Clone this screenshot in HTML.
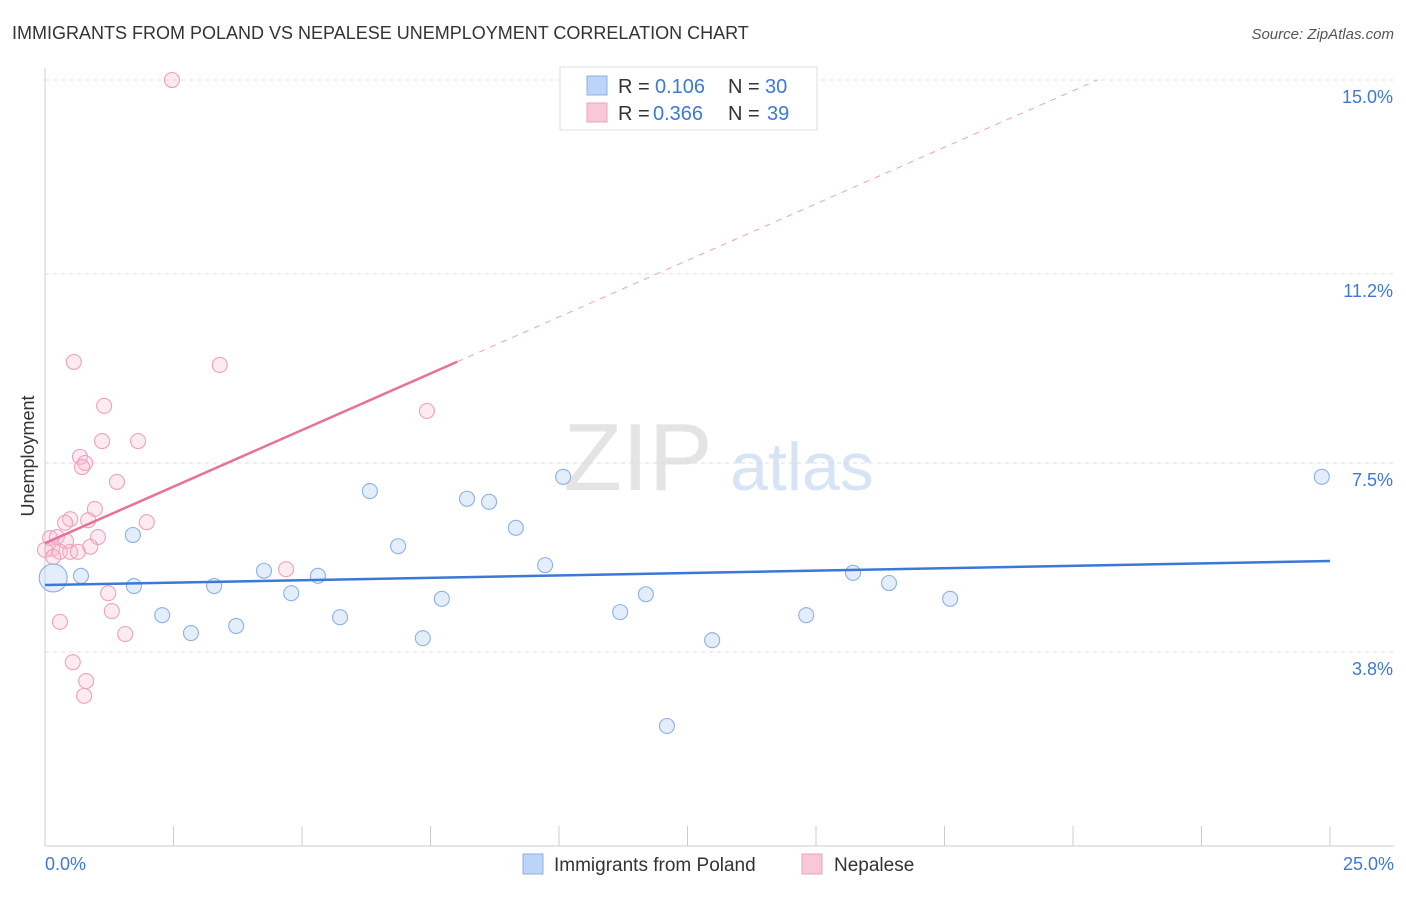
<!DOCTYPE html>
<html><head><meta charset="utf-8"><style>
body{margin:0;background:#fff;font-family:"Liberation Sans",sans-serif}
svg text{font-family:"Liberation Sans",sans-serif}
</style></head><body>
<svg id="c" width="1406" height="892">
<text x="12" y="39" font-size="18" fill="#333">IMMIGRANTS FROM POLAND VS NEPALESE UNEMPLOYMENT CORRELATION CHART</text>
<text x="1394" y="39" font-size="15" fill="#555" text-anchor="end" font-style="italic">Source: ZipAtlas.com</text>
<text x="638" y="490" font-size="96" fill="#e4e4e4" font-family="Liberation Serif" text-anchor="middle">ZIP</text>
<text x="802" y="490" font-size="68" fill="#d6e4f5" text-anchor="middle">atlas</text>
<text transform="translate(34,456) rotate(-90)" font-size="18" fill="#333" text-anchor="middle">Unemployment</text>
<g id="grid"></g><g id="marks"></g>
<g>
<rect x="560" y="67" width="257" height="63" fill="#fff" stroke="#ddd"/>
<rect x="587" y="76" width="20" height="19" fill="#bcd4f6" stroke="#8ab0e8"/>
<rect x="587" y="103" width="20" height="19" fill="#f9c8d6" stroke="#f0a0b8"/>
<text x="618" y="93" font-size="20" fill="#333">R =</text>
<text x="655" y="93" font-size="20" fill="#3c78d8">0.106</text>
<text x="728" y="93" font-size="20" fill="#333">N =</text>
<text x="765" y="93" font-size="20" fill="#3c78d8">30</text>
<text x="618" y="120" font-size="20" fill="#333">R =</text>
<text x="653" y="120" font-size="20" fill="#3c78d8">0.366</text>
<text x="728" y="120" font-size="20" fill="#333">N =</text>
<text x="767" y="120" font-size="20" fill="#3c78d8">39</text>
</g>
<g>
<rect x="523" y="854" width="20" height="20" fill="#bcd4f6" stroke="#8ab0e8"/>
<text x="554" y="871" font-size="19" fill="#333">Immigrants from Poland</text>
<rect x="802" y="854" width="20" height="20" fill="#f9c8d6" stroke="#f0a0b8"/>
<text x="834" y="871" font-size="19" fill="#333">Nepalese</text>
</g>
</svg>
<script>
const yTicks=[3.8,7.5,11.2,15.0];
const yTickLabels=["3.8%","7.5%","11.2%","15.0%"];
const xTickCount=10;
const blueX=[0.16,0.70,1.71,1.73,2.28,2.84,3.29,3.72,4.26,4.79,5.31,5.74,6.32,6.87,7.35,7.72,8.21,8.64,9.16,9.73,10.08,11.19,11.69,12.10,12.98,14.81,15.72,16.42,17.61,24.84];
const blueY=[5.25,5.29,6.09,5.09,4.52,4.17,5.09,4.31,5.39,4.95,5.29,4.48,6.95,5.87,4.07,4.84,6.80,6.74,6.23,5.50,7.23,4.58,4.93,2.35,4.03,4.52,5.35,5.15,4.84,7.23];
const pinkX=[2.47,0.56,3.40,1.15,7.43,1.11,1.81,0.68,0.78,0.72,1.40,0.97,0.49,0.84,0.39,1.98,0.10,0.23,0.41,1.03,0.88,0.14,0.29,0.49,0.64,0.0,0.16,4.69,1.23,1.30,0.29,1.56,0.54,0.80,0.76];
const pinkY=[15.0,9.48,9.42,8.62,8.52,7.93,7.93,7.62,7.50,7.42,7.13,6.60,6.40,6.38,6.33,6.34,6.03,6.05,5.97,6.05,5.86,5.82,5.76,5.76,5.76,5.80,5.66,5.42,4.95,4.60,4.39,4.15,3.60,3.23,2.94];
const blueTrend=[5.11,0.0188];
const pinkTrend=[5.93,0.443];
const X=v=>45+v/25*1285, Y=v=>846-v/15*766;
const NS="http://www.w3.org/2000/svg";
function mk(t,a,p){const e=document.createElementNS(NS,t);for(const k in a)e.setAttribute(k,a[k]);p.appendChild(e);return e;}
const g=document.getElementById('grid'),m=document.getElementById('marks');
yTicks.forEach((t,i)=>{
 const l=mk('line',{x1:45,x2:1394,y1:Y(t),y2:Y(t),stroke:'#ddd','stroke-dasharray':'4,4'},g);
 
 
 const tx=mk('text',{x:1393,y:Y(t)+23,'font-size':18,fill:'#3c78d8','text-anchor':'end'},g);
 tx.textContent=yTickLabels[i];
 
 
});
const ax=mk('line',{x1:45,x2:45,y1:68,y2:846,stroke:'#ccc'},g);


const bx=mk('line',{x1:45,x2:1394,y1:846,y2:846,stroke:'#ccc'},g);


for(let i=0;i<=xTickCount;i++){
 const x=X(i*25/xTickCount);
 const t=mk('line',{x1:x,x2:x,y1:826,y2:846,stroke:'#ccc'},g);
 
 
}
const xl=mk('text',{x:45,y:870,'font-size':18,fill:'#3c78d8'},g);xl.textContent='0.0%';


const xr=mk('text',{x:1394,y:870,'font-size':18,fill:'#3c78d8','text-anchor':'end'},g);xr.textContent='25.0%';


pinkX.forEach((v,i)=>{
 const c=mk('circle',{cx:X(v),cy:Y(pinkY[i]),r:7.5,fill:'rgba(249,190,208,0.3)',stroke:'#f0a0b8','stroke-width':1.1},m);
 
 
});
blueX.forEach((v,i)=>{
 const c=mk('circle',{cx:X(v),cy:Y(blueY[i]),r:i==0?14:7.5,fill:'rgba(188,212,246,0.4)',stroke:'#8ab0e8','stroke-width':1.1},m);
 
 
});
const bt=mk('line',{x1:X(0),y1:Y(blueTrend[0]),x2:X(25),y2:Y(blueTrend[0]+blueTrend[1]*25),stroke:'#3c78d8','stroke-width':2.5},m);


const pt=mk('line',{x1:X(0),y1:Y(pinkTrend[0]),x2:X(8.02),y2:Y(pinkTrend[0]+pinkTrend[1]*8.02),stroke:'#e8709a','stroke-width':2.5},m);


const xe=(15-pinkTrend[0])/pinkTrend[1];
const pd=mk('line',{x1:X(8.02),y1:Y(pinkTrend[0]+pinkTrend[1]*8.02),x2:X(xe),y2:Y(15),stroke:'#f0a0b8','stroke-width':1,'stroke-dasharray':'6,6'},m);


</script>
</body></html>
